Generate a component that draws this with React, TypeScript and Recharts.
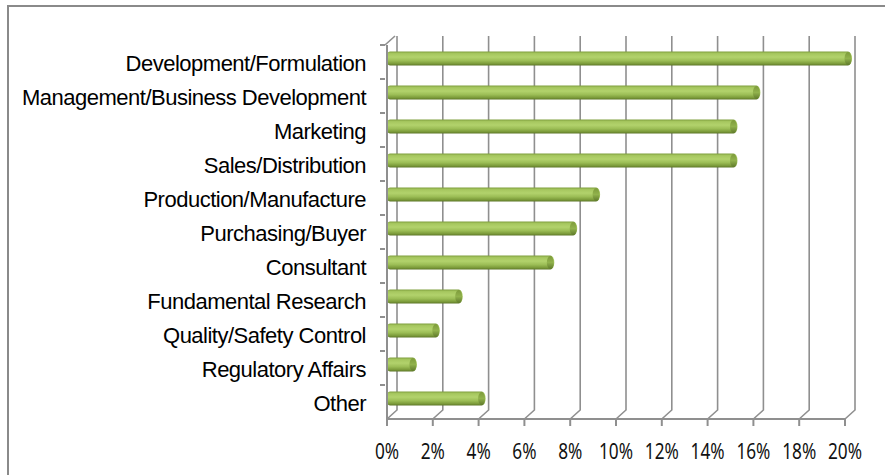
import { Bar, BarChart, CartesianGrid, XAxis, YAxis } from "recharts";

const categories = [
  "Development/Formulation",
  "Management/Business Development",
  "Marketing",
  "Sales/Distribution ",
  "Production/Manufacture",
  "Purchasing/Buyer",
  "Consultant",
  "Fundamental Research",
  "Quality/Safety Control ",
  "Regulatory Affairs",
  "Other",
];
const shares = [0.2, 0.16, 0.15, 0.15, 0.09, 0.08, 0.07, 0.03, 0.02, 0.01, 0.04];
const xTicks = [0, 0.02, 0.04, 0.06, 0.08, 0.1, 0.12, 0.14, 0.16, 0.18, 0.2];

const data = categories.map((name, i) => ({ name, share: shares[i] }));

const GRID = "#8f8f8f";
const DX = 10; // depth offset of the back wall
const DY = 9;

// bar drawn as a cylinder, nudged into the middle of the depth
function Cylinder(props: any) {
  const { x, y, width, height } = props;
  if (!width || width <= 0) return null;
  const bx = x + 3;
  const by = y - 3.5;
  const r = 4;
  const ry = height / 2;
  const d = `M${bx},${by} L${bx + width},${by} A${r},${ry} 0 0 1 ${bx + width},${by + height} L${bx},${by + height} A${r},${ry} 0 0 1 ${bx},${by} Z`;
  return (
    <g>
      <path d={d} fill="url(#cylGrad)" />
      <ellipse cx={bx + width} cy={by + ry} rx={r - 0.5} ry={ry - 0.5} fill="url(#capGrad)" />
    </g>
  );
}

function GridLine(props: any) {
  const { x1, y1, y2, index } = props;
  return (
    <polyline
      key={`g-${index}`}
      points={`${x1 + DX},${y1 - DY} ${x1 + DX},${y2 - DY} ${x1},${y2}`}
      fill="none"
      stroke={GRID}
      strokeWidth={1.6}
    />
  );
}

function CategoryTick(props: any) {
  const { x, y, payload, index } = props;
  const ax = x + 17; // axis line position
  return (
    <g>
      <line x1={ax - 5} y1={y - 17} x2={ax} y2={y - 17} stroke={GRID} strokeWidth={2} />
      {index === 0 && (
        <line x1={ax} y1={y - 17} x2={ax + DX} y2={y - 17 - DY} stroke={GRID} strokeWidth={1.6} />
      )}
      <text
        x={x - 2}
        y={y + 9}
        textAnchor="end"
        fontFamily="'Liberation Sans', Arial, sans-serif"
        fontSize={22}
        letterSpacing={-0.5}
        fill="#000"
      >
        {payload.value}
      </text>
    </g>
  );
}

function PercentTick(props: any) {
  const { x, y, payload } = props;
  return (
    <text
      transform={`translate(${x},${y + 31}) scale(0.82,1)`}
      textAnchor="middle"
      fontFamily="'Noto Sans', sans-serif"
      fontSize={21}
      fill="#111"
    >
      {`${Math.round(payload.value * 100)}%`}
    </text>
  );
}

export default function App() {
  return (
    <div style={{ position: "relative", width: 885, height: 475, overflow: "hidden", background: "#fff" }}>
      <style>{`body{margin:0}`}</style>
      <div
        style={{
          position: "absolute",
          left: 7,
          top: 5,
          width: 900,
          height: 500,
          borderLeft: "2.5px solid #8a8a8a",
          borderTop: "2.5px solid #8a8a8a",
        }}
      />
      <div style={{ position: "absolute", left: 0, top: 0 }}>
        <BarChart
          width={885}
          height={475}
          data={data}
          layout="vertical"
          margin={{ top: 45, right: 40, bottom: 26, left: 0 }}
          barCategoryGap={10}
        >
          <defs>
            <linearGradient id="cylGrad" x1="0" y1="0" x2="0" y2="1">
              <stop offset="0%" stopColor="#7f9f3d" />
              <stop offset="15%" stopColor="#a6c75f" />
              <stop offset="40%" stopColor="#b2d26c" />
              <stop offset="65%" stopColor="#9cbe56" />
              <stop offset="88%" stopColor="#7a9939" />
              <stop offset="100%" stopColor="#5b7527" />
            </linearGradient>
            <linearGradient id="capGrad" x1="0" y1="0" x2="0" y2="1">
              <stop offset="0%" stopColor="#7d9b3b" />
              <stop offset="50%" stopColor="#91b24c" />
              <stop offset="100%" stopColor="#5f7a2b" />
            </linearGradient>
          </defs>
          <CartesianGrid horizontal={false} vertical={GridLine} />
          <XAxis
            type="number"
            domain={[0, 0.2]}
            ticks={xTicks}
            interval={0}
            height={30}
            tick={PercentTick}
            axisLine={{ stroke: GRID, strokeWidth: 2 }}
            tickLine={{ stroke: GRID, strokeWidth: 2 }}
            tickSize={7}
          />
          <YAxis
            type="category"
            dataKey="name"
            width={387}
            interval={0}
            tick={CategoryTick}
            tickLine={false}
            tickSize={17}
            axisLine={{ stroke: GRID, strokeWidth: 2 }}
          />
          <Bar dataKey="share" barSize={14} shape={Cylinder} isAnimationActive={false} />
        </BarChart>
      </div>
    </div>
  );
}
